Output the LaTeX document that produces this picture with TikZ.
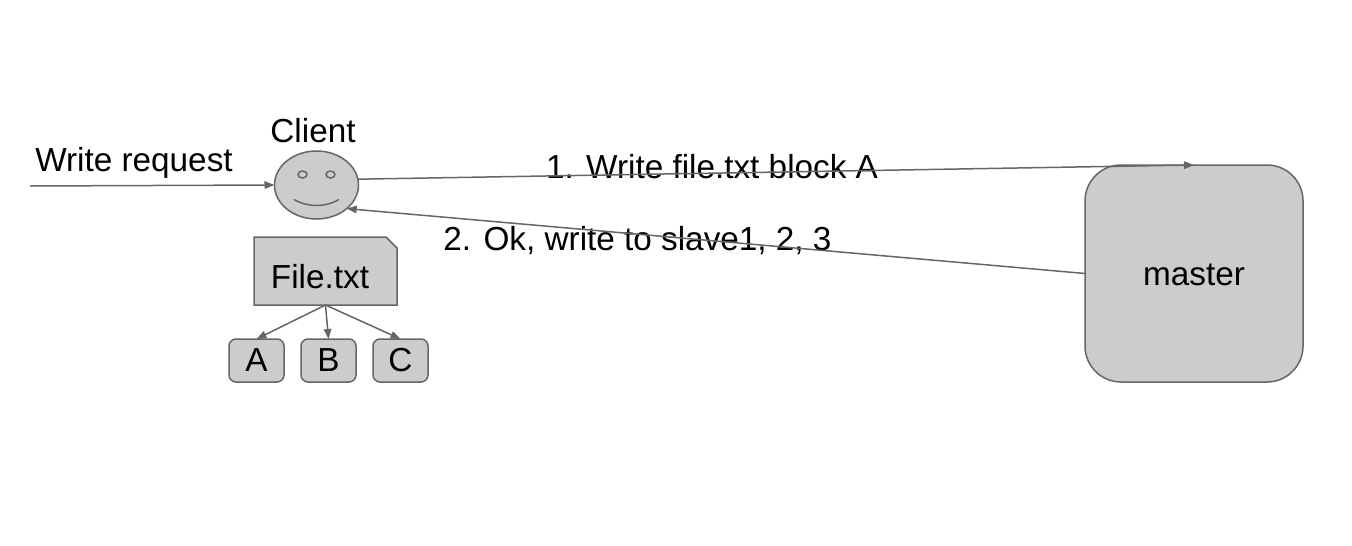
\documentclass[tikz,border=0pt]{standalone}
\usepackage{fontspec}
\setmainfont{Liberation Sans}
\usetikzlibrary{arrows.meta,shapes.geometric}
\definecolor{shapefill}{HTML}{CCCCCC}
\definecolor{linegray}{HTML}{666666}
\tikzset{
  x=1pt,y=-1pt,
  every node/.style={font=\fontsize{33.3}{38}\selectfont,text=black,inner sep=0pt,outer sep=0pt},
  shapeline/.style={draw=linegray,line width=1.5pt,fill=shapefill},
  blockbox/.style={shapeline,rounded corners=7pt,minimum width=55pt,minimum height=43pt},
  txt/.style={anchor=base},
  conn/.style={draw=linegray,line width=1.5pt,-{Triangle[length=10pt,width=7.5pt]}}
}
\begin{document}
\begin{tikzpicture}
\useasboundingbox (0,0) rectangle (1352,546);
\fill[white] (0,0) rectangle (1352,546);
% client
\node[ellipse,shapeline,minimum width=84pt,minimum height=68pt] (client) at (316.5,185) {};
\draw[shapeline] (330.5,174.5) circle[x radius=4.5,y radius=3.5];
\draw[shapeline] (302.5,174.5) circle[x radius=4.5,y radius=3.5];
\draw[draw=linegray,line width=1.5pt] (294,199.5) .. controls (308,207.5) and (325,207.5) .. (339,199.5);
% file
\node[minimum width=143pt,minimum height=68pt] (file) at (325.5,271) {};
\draw[shapeline,line join=miter] (file.north west) -- ([xshift=-11pt]file.north east) -- ([yshift=-11pt]file.north east) -- (file.south east) -- (file.south west) -- cycle;
\node[txt] (filetxt) at (320,288) {File.txt};
% blocks
\node[blockbox] (a) at (256.5,360.5) {A};
\node[blockbox] (b) at (328.5,360.5) {B};
\node[blockbox] (c) at (400.5,360.5) {C};
% master
\node[shapeline,rounded corners=36pt,minimum width=218pt,minimum height=217pt] (master) at (1194,273.5) {};
\node[txt] (mastertxt) at (1194,285) {master};
% labels
\node[txt] (clientlbl) at (313,142) {Client};
\node[txt] (wr) at (134,171) {Write request};
\node[txt] (l1) at (712,178) {1. Write file.txt block A};
\node[txt] (l2) at (637.5,250) {2. Ok, write to slave1, 2, 3};
% connectors
\coordinate (wrstart) at (30,186);
\draw[conn] (wrstart) -- (client.west);
\draw[conn] (client.8) -- (master.north);
\draw[conn] (master.west) -- (client.-38);
\draw[conn] (file.south) -- (a.north);
\draw[conn] (file.south) -- (b.north);
\draw[conn] (file.south) -- (c.north);
\end{tikzpicture}
\end{document}
